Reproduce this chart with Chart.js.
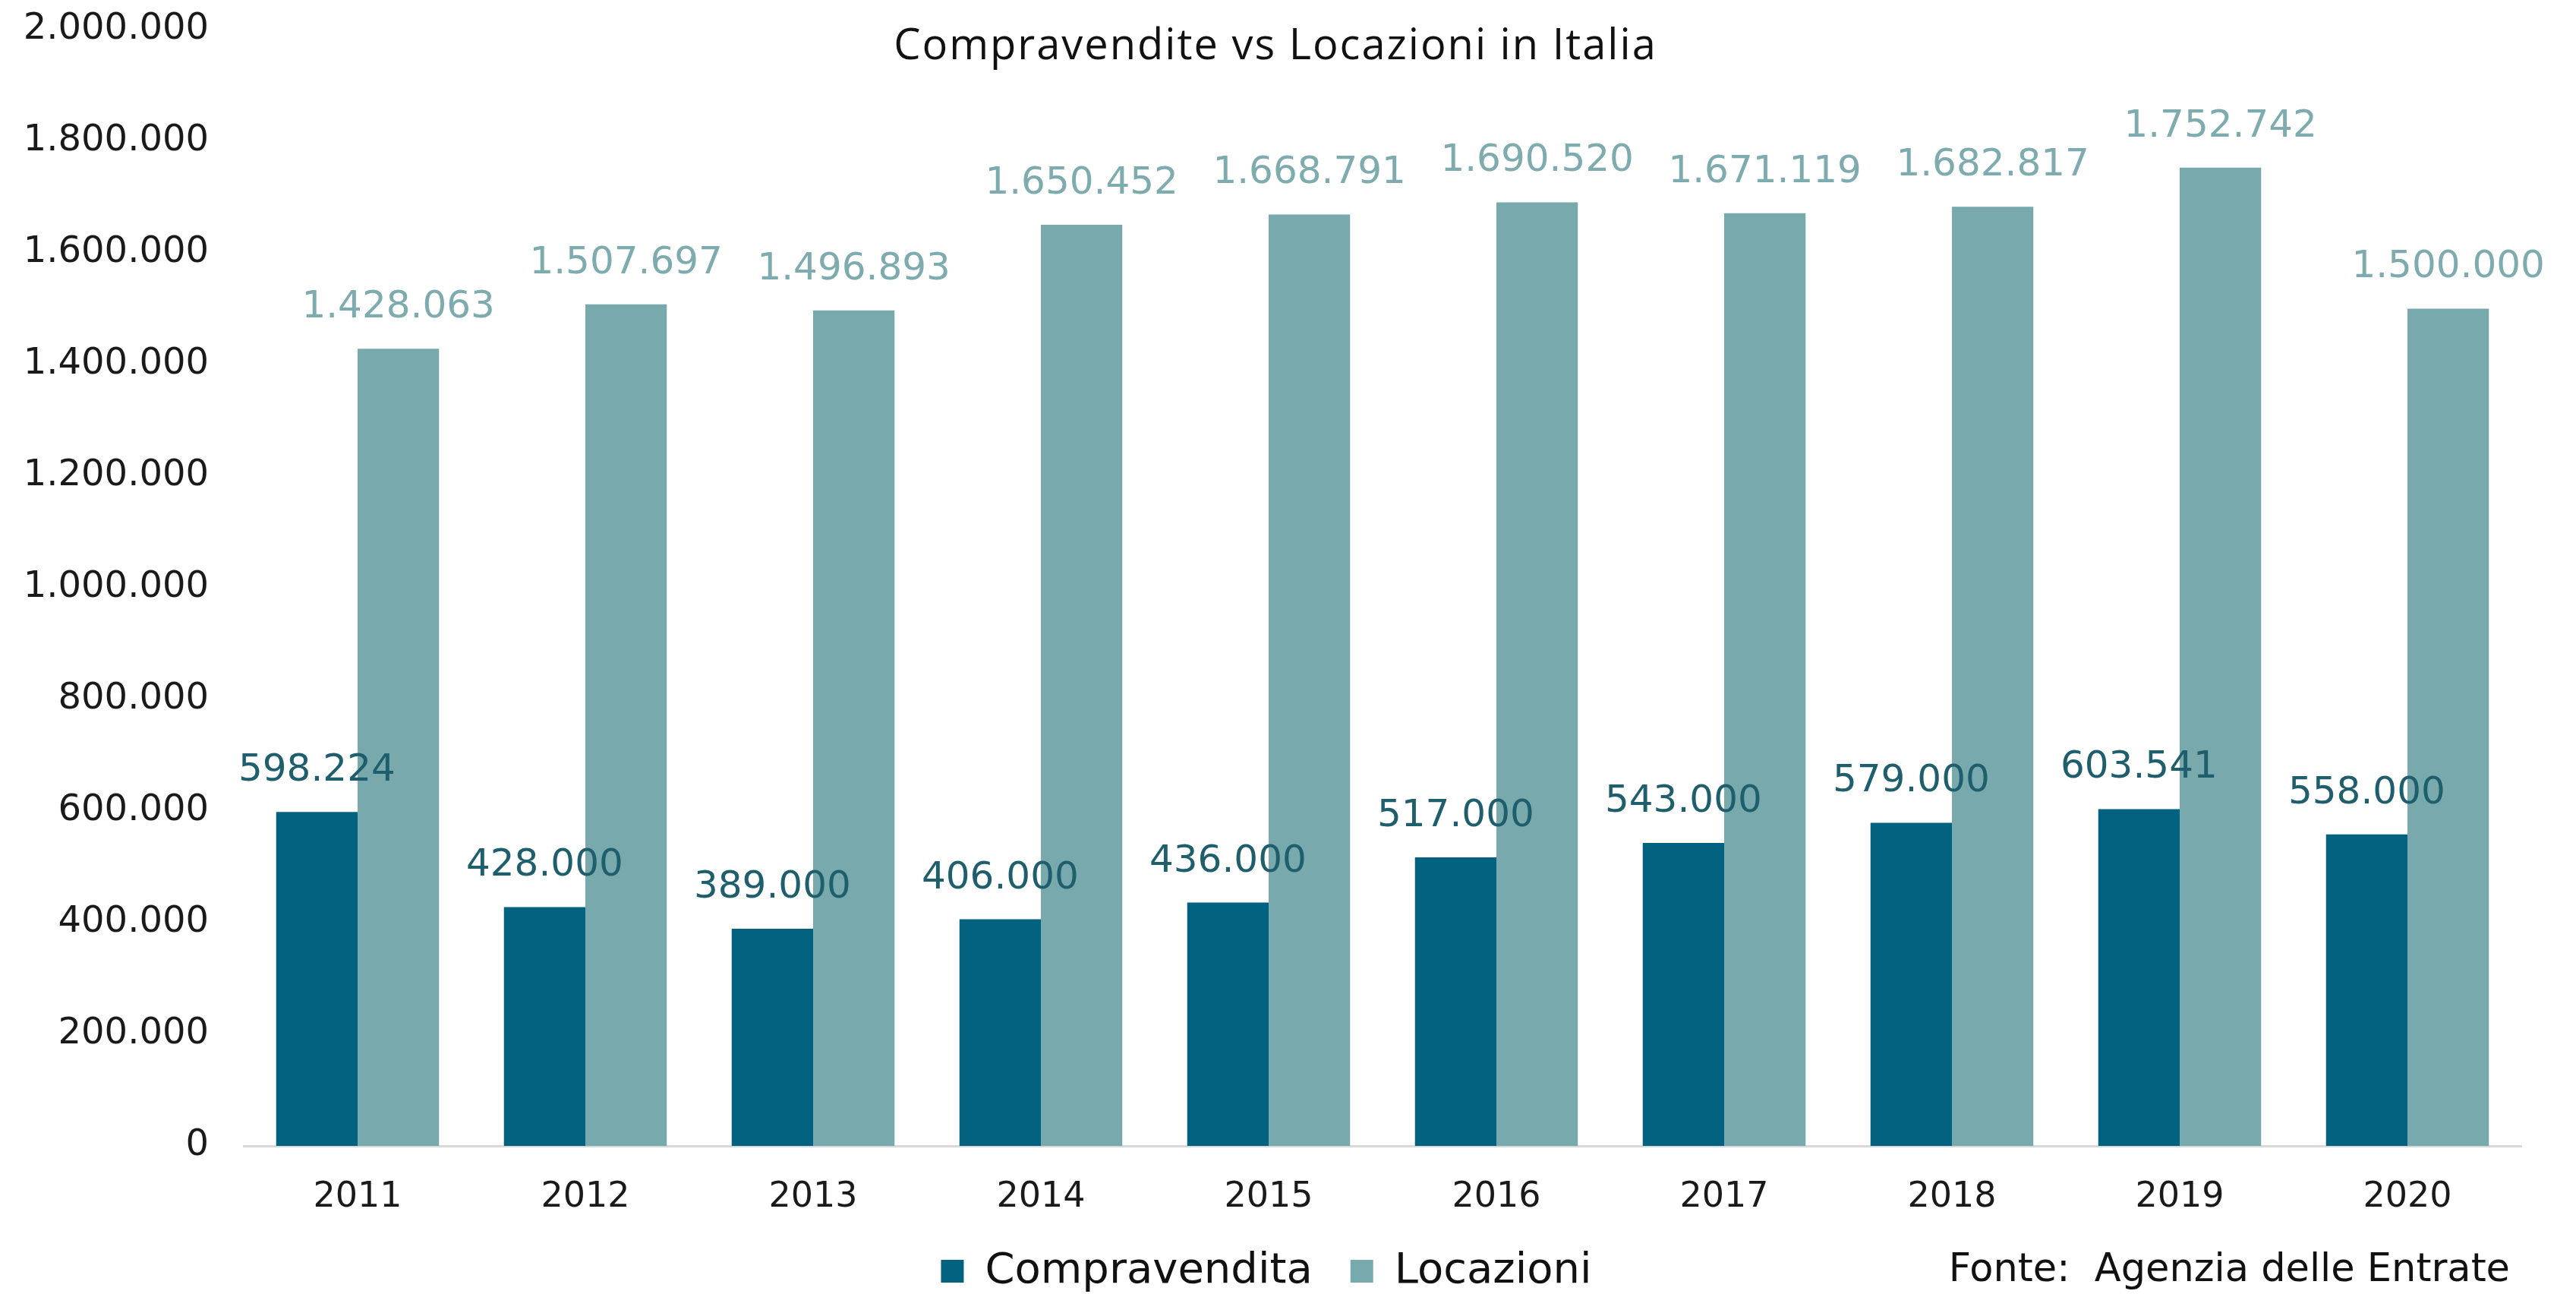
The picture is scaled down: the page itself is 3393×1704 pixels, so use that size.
<!DOCTYPE html>
<html>
<head>
<meta charset="utf-8">
<title>Compravendite vs Locazioni in Italia</title>
<script src="https://cdn.jsdelivr.net/npm/chart.js@4.4.1/dist/chart.umd.min.js"></script>
<style>
    body { margin: 0; background: #fff; }
    #chart { display: block; }
</style>
</head>
<body>
<canvas id="chart" width="3393" height="1704"></canvas>
<script>
// data
const years = ["2011", "2012", "2013", "2014", "2015", "2016", "2017", "2018", "2019", "2020"];
const compravendita = [598224, 428000, 389000, 406000, 436000, 517000, 543000, 579000, 603541, 558000];
const locazioni = [1428063, 1507697, 1496893, 1650452, 1668791, 1690520, 1671119, 1682817, 1752742, 1500000];
const seriesNames = ["Compravendita", "Locazioni"];
const chartTitle = "Compravendite vs Locazioni in Italia";
const sourceNote = "Fonte:  Agenzia delle Entrate";

const DARK = "#02627f";
const LIGHT = "#78aaad";
const DARK_LABEL = "#1f5e6d";
const LIGHT_LABEL = "#7eabae";
const FONT = "'DejaVu Sans'";

// 1.428.063 style thousands
const fmt = (v) => String(Math.round(v)).replace(/\B(?=(\d{3})+(?!\d))/g, ".");

// value labels above each bar
const valueLabels = {
    id: "valueLabels",
    afterDatasetsDraw(chart) {
        const ctx = chart.ctx;
        ctx.save();
        ctx.font = "50px " + FONT;
        ctx.textAlign = "center";
        ctx.textBaseline = "middle";
        chart.data.datasets.forEach((ds, i) => {
            ctx.fillStyle = i === 0 ? DARK_LABEL : LIGHT_LABEL;
            chart.getDatasetMeta(i).data.forEach((bar, j) => {
                ctx.fillText(fmt(ds.data[j]), bar.x, bar.y - 54);
            });
        });
        ctx.restore();
    }
};

// title and source note
const extraText = {
    id: "extraText",
    afterDraw(chart) {
        const ctx = chart.ctx;
        ctx.save();
        ctx.fillStyle = "#111";
        ctx.textBaseline = "middle";
        ctx.font = "56px 'Open Sans'";
        ctx.letterSpacing = "2px";
        ctx.textAlign = "center";
        ctx.fillText(chartTitle, 1680, 62);
        ctx.letterSpacing = "0px";
        ctx.font = "51px " + FONT;
        ctx.textAlign = "right";
        ctx.fillText(sourceNote, 3306, 1674);
        ctx.restore();
    }
};

new Chart(document.getElementById("chart"), {
    type: "bar",
    data: {
        labels: years,
        datasets: [
            { label: seriesNames[0], data: compravendita, backgroundColor: DARK },
            { label: seriesNames[1], data: locazioni, backgroundColor: LIGHT }
        ]
    },
    options: {
        responsive: false,
        devicePixelRatio: 1,
        animation: false,
        datasets: {
            bar: { categoryPercentage: 0.715, barPercentage: 1.0 }
        },
        layout: {
            padding: { top: 39, left: 15, right: 72, bottom: -8 }
        },
        scales: {
            x: {
                grid: { display: false },
                border: { display: true, color: "#d9d9d9", width: 3 },
                ticks: { color: "#1a1a1a", font: { family: FONT, size: 46 }, padding: 32, maxRotation: 0 },
                afterFit(scale) { scale.height = 87; }
            },
            y: {
                min: 0,
                max: 2000000,
                // tick marks hidden; their length only sets the label gap
                grid: { display: false, drawTicks: true, tickLength: 46 },
                border: { display: false },
                ticks: {
                    stepSize: 200000,
                    color: "#1a1a1a",
                    font: { family: FONT, size: 48 },
                    padding: 0,
                    callback: (v) => fmt(v)
                },
                afterFit(scale) { scale.width = 306; }
            }
        },
        plugins: {
            title: { display: false },
            tooltip: { enabled: false },
            legend: {
                position: "bottom",
                labels: {
                    color: "#111",
                    font: { family: FONT, size: 56 },
                    boxWidth: 30,
                    boxHeight: 30,
                    padding: 50
                }
            }
        }
    },
    plugins: [valueLabels, extraText]
});
</script>
</body>
</html>
